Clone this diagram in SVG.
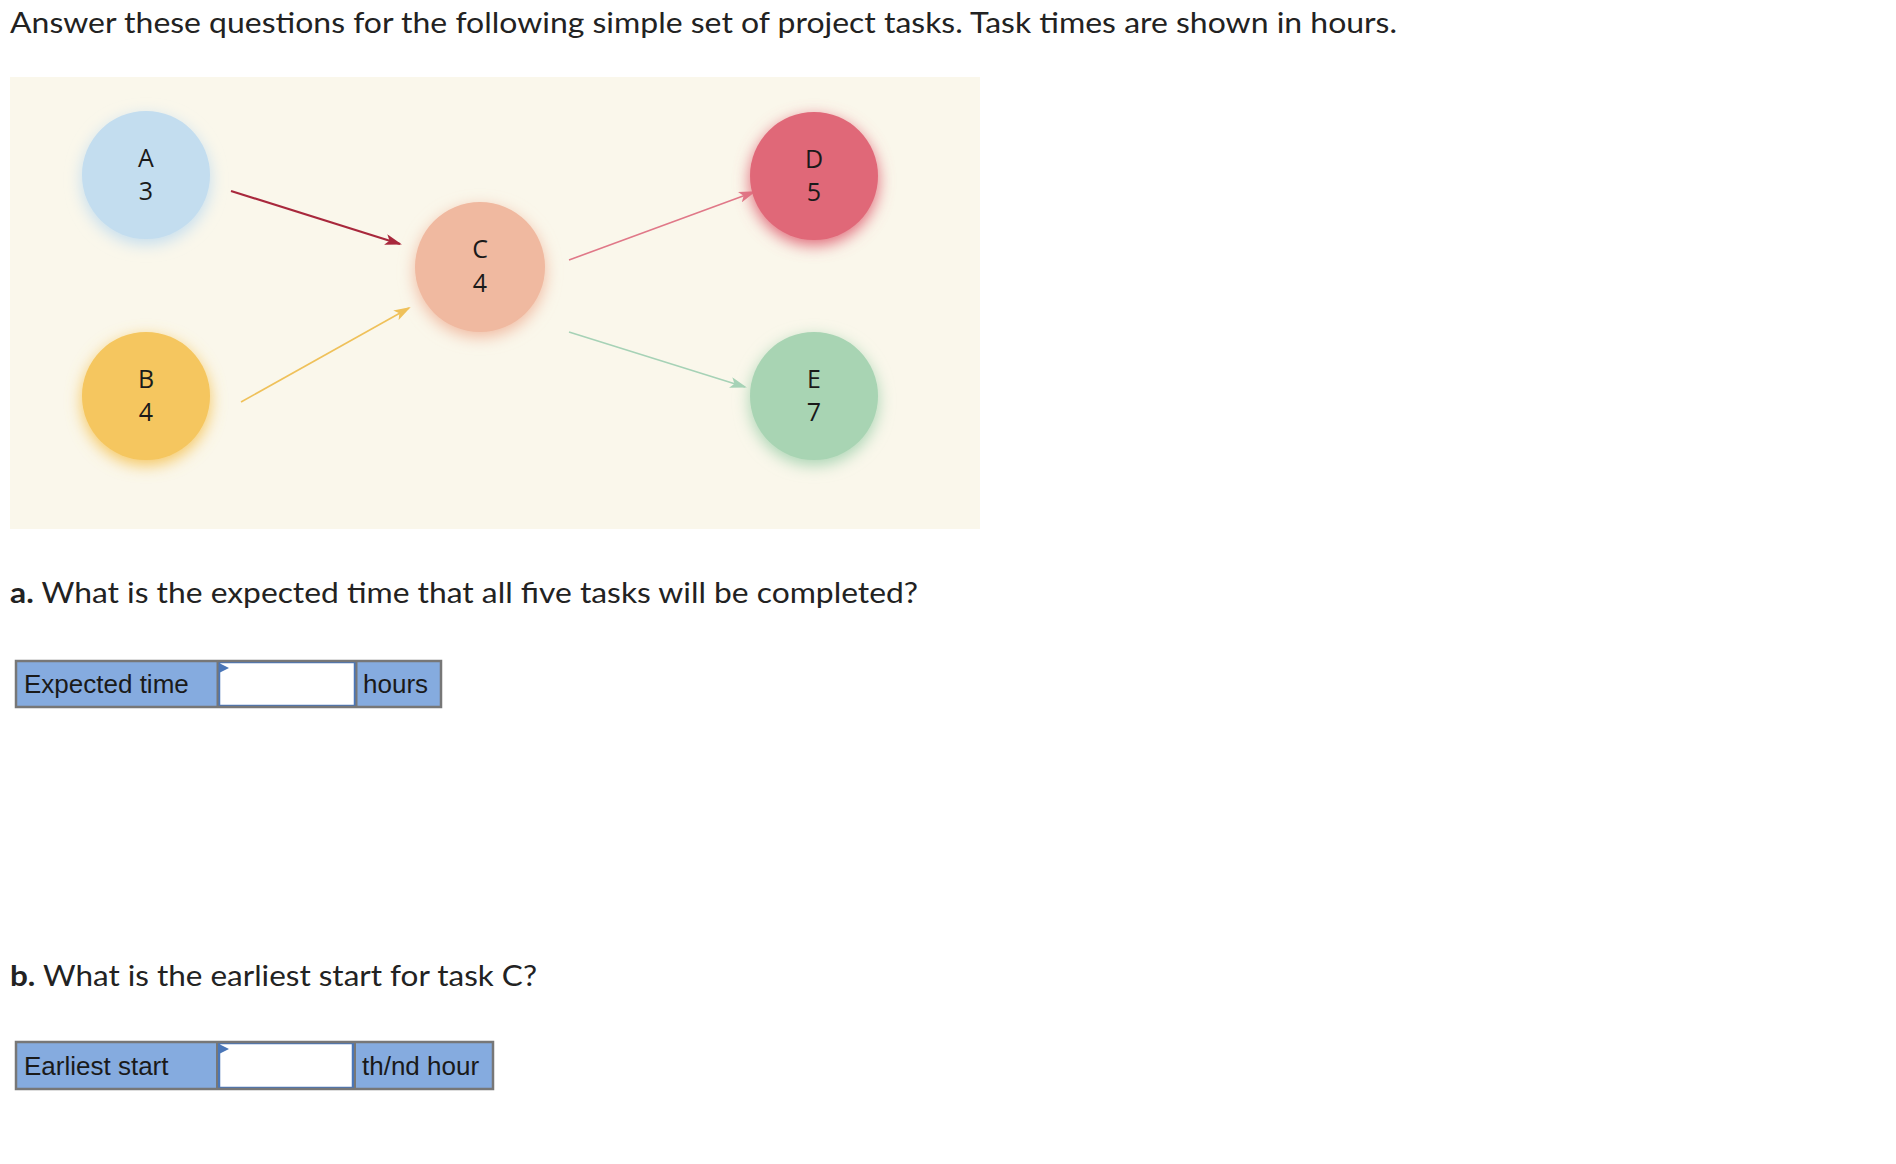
<svg xmlns="http://www.w3.org/2000/svg" width="1896" height="1164" viewBox="0 0 1896 1164">
<style>
.q{font-family:Lato,"Liberation Sans",sans-serif;font-size:28px;fill:#222}
.n{font-family:"Open Sans","Noto Sans",sans-serif;font-size:25px;fill:#1a1a1a;text-anchor:middle}
.f{font-family:"Liberation Sans",Arial,sans-serif;font-size:26px;fill:#1a1a1a}
.cell{fill:#85abdf}
.outer{fill:none;stroke:#777;stroke-width:2.5}
.inp{fill:#fff;stroke:#4a76b8;stroke-width:2.5}
</style>
<defs>
<filter id="glow" x="-50%" y="-50%" width="200%" height="200%">
<feOffset in="SourceGraphic" dy="5" result="o"/>
<feGaussianBlur in="o" stdDeviation="8" result="b"/>
<feMerge><feMergeNode in="b"/><feMergeNode in="SourceGraphic"/></feMerge>
</filter>
<marker id="mRed" markerWidth="17" markerHeight="11" refX="15" refY="5.5" orient="auto" markerUnits="userSpaceOnUse"><path d="M0,0 L17,5.5 L0,11 L4,5.5 Z" fill="#a8283c"/></marker>
<marker id="mYel" markerWidth="17" markerHeight="11" refX="15" refY="5.5" orient="auto" markerUnits="userSpaceOnUse"><path d="M0,0 L17,5.5 L0,11 L4,5.5 Z" fill="#efc15a"/></marker>
<marker id="mPink" markerWidth="17" markerHeight="11" refX="15" refY="5.5" orient="auto" markerUnits="userSpaceOnUse"><path d="M0,0 L17,5.5 L0,11 L4,5.5 Z" fill="#e07888"/></marker>
<marker id="mGrn" markerWidth="17" markerHeight="11" refX="15" refY="5.5" orient="auto" markerUnits="userSpaceOnUse"><path d="M0,0 L17,5.5 L0,11 L4,5.5 Z" fill="#a6d2b6"/></marker>
</defs>
<rect width="1896" height="1164" fill="#fff"/>
<text class="q" x="10" y="33" textLength="1387" lengthAdjust="spacingAndGlyphs">Answer these questions for the following simple set of project tasks. Task times are shown in hours.</text>
<rect x="10" y="77" width="970" height="452" fill="#faf7eb"/>
<g id="connectors" fill="none">
<line x1="231" y1="191" x2="400" y2="244" stroke="#a8283c" stroke-width="2.2" marker-end="url(#mRed)"/>
<line x1="241" y1="402" x2="409" y2="308" stroke="#efc15a" stroke-width="1.6" marker-end="url(#mYel)"/>
<line x1="569" y1="260" x2="754" y2="192" stroke="#e07888" stroke-width="1.6" marker-end="url(#mPink)"/>
<line x1="569" y1="332" x2="745" y2="387" stroke="#a6d2b6" stroke-width="1.6" marker-end="url(#mGrn)"/>
</g>
<g id="nodeA"><circle cx="146" cy="175" r="64" fill="#c3ddef" filter="url(#glow)"/><text class="n" x="146" y="167">A</text><text class="n" x="146" y="200">3</text></g>
<g id="nodeB"><circle cx="146" cy="396" r="64" fill="#f5c65e" filter="url(#glow)"/><text class="n" x="146" y="388">B</text><text class="n" x="146" y="421">4</text></g>
<g id="nodeC"><circle cx="480" cy="267" r="65" fill="#f0b9a0" filter="url(#glow)"/><text class="n" x="480" y="258">C</text><text class="n" x="480" y="292">4</text></g>
<g id="nodeD"><circle cx="814" cy="176" r="64" fill="#e06878" filter="url(#glow)"/><text class="n" x="814" y="168">D</text><text class="n" x="814" y="201">5</text></g>
<g id="nodeE"><circle cx="814" cy="396" r="64" fill="#a8d4b3" filter="url(#glow)"/><text class="n" x="814" y="388">E</text><text class="n" x="814" y="421">7</text></g>
<text class="q" x="10" y="603" textLength="908" lengthAdjust="spacingAndGlyphs"><tspan font-weight="bold">a.</tspan> What is the expected time that all five tasks will be completed?</text>
<g id="boxA">
<rect class="cell" x="16" y="661" width="425" height="46"/>
<rect class="inp" x="219" y="662" width="136" height="44"/>
<path d="M219,663 L229,668 L219,673 Z" fill="#4a76b8"/>
<rect class="outer" x="16" y="661" width="425" height="46"/>
<line x1="217.5" y1="661" x2="217.5" y2="707" stroke="#777" stroke-width="2"/>
<line x1="356.5" y1="661" x2="356.5" y2="707" stroke="#777" stroke-width="2"/>
<text class="f" x="24" y="693">Expected time</text>
<text class="f" x="363" y="693">hours</text>
</g>
<text class="q" x="10" y="986" textLength="527" lengthAdjust="spacingAndGlyphs"><tspan font-weight="bold">b.</tspan> What is the earliest start for task C?</text>
<g id="boxB">
<rect class="cell" x="16" y="1042" width="477" height="47"/>
<rect class="inp" x="219" y="1043" width="134" height="45"/>
<path d="M219,1044 L229,1049 L219,1054 Z" fill="#4a76b8"/>
<rect class="outer" x="16" y="1042" width="477" height="47"/>
<line x1="217" y1="1042" x2="217" y2="1089" stroke="#777" stroke-width="2"/>
<line x1="355" y1="1042" x2="355" y2="1089" stroke="#777" stroke-width="2"/>
<text class="f" x="24" y="1075">Earliest start</text>
<text class="f" x="362" y="1075">th/nd hour</text>
</g>
</svg>
